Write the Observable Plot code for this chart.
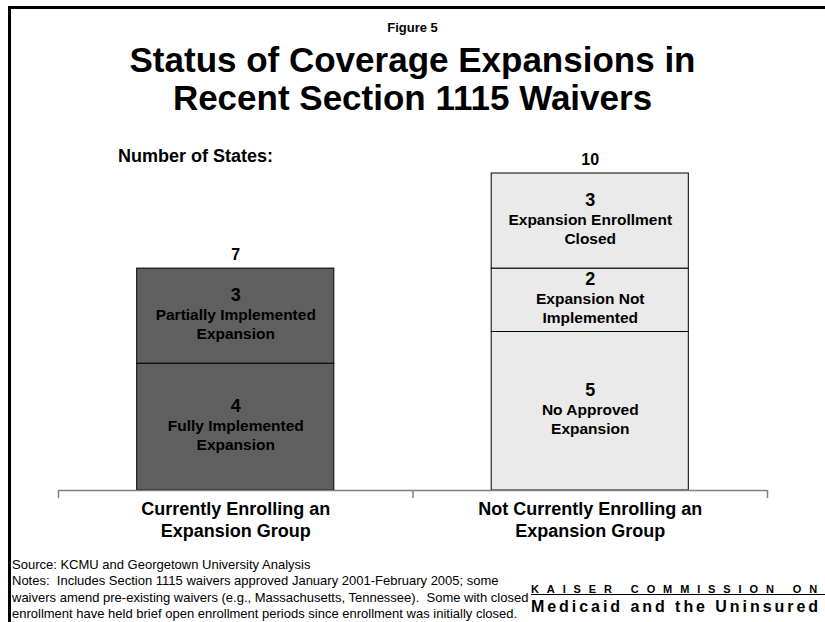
<!DOCTYPE html>
<html>
<head>
<meta charset="utf-8">
<script src="https://cdn.jsdelivr.net/npm/d3@7"></script>
<script src="https://cdn.jsdelivr.net/npm/@observablehq/plot@0.6"></script>
<style>
  html, body { margin: 0; padding: 0; background: #fff; }
  body { font-family: "Liberation Sans", Arial, sans-serif; color: #000; }
  #wrap { position: relative; width: 825px; height: 622px; overflow: hidden; }
  .frameTop { position: absolute; left: 8px; top: 6px; width: 817px; height: 3px; background: #000; }
  .frameLeft { position: absolute; left: 8px; top: 6px; width: 3px; height: 616px; background: #000; }
  #fig { position: absolute; left: 0; width: 825px; top: 20px; text-align: center; font-weight: bold; font-size: 13px; line-height: 15px; }
  #title { position: absolute; left: 0; width: 825px; top: 41px; text-align: center; font-weight: bold; font-size: 35px; line-height: 38px; }
  #nstates { position: absolute; left: 118px; top: 146px; font-weight: bold; font-size: 18px; }
  #chart { position: absolute; left: 0; top: 140px; }
  #notes { position: absolute; left: 12px; top: 557px; font-size: 13px; line-height: 16.3px; white-space: nowrap; }
  .logo { position: absolute; left: 531px; font-weight: bold; white-space: nowrap; }
  #logo1 { top: 583px; font-size: 11px; text-decoration: underline; }
  #logo2 { top: 598px; font-size: 16px; }
</style>
</head>
<body>
<div id="wrap">
  <div class="frameTop"></div>
  <div class="frameLeft"></div>
  <div id="fig">Figure 5</div>
  <div id="title">Status of Coverage Expansions in<br>Recent Section 1115 Waivers</div>
  <div id="nstates">Number of States:</div>
  <div id="chart"></div>
  <div id="notes">Source: KCMU and Georgetown University Analysis<br>Notes:&nbsp; Includes Section 1115 waivers approved January 2001-February 2005; some<br>waivers amend pre-existing waivers (e.g., Massachusetts, Tennessee).&nbsp; Some with closed<br>enrollment have held brief open enrollment periods since enrollment was initially closed.</div>
  <div id="logo1" class="logo">KAISER COMMISSION ON</div>
  <div id="logo2" class="logo">Medicaid and the Uninsured</div>
</div>
<script>
// ---- data ----
const categories = ["Currently Enrolling an\nExpansion Group", "Not Currently Enrolling an\nExpansion Group"];
const totals = [7, 10];
const segGroup = [0, 0, 1, 1, 1];
const segValues = [4, 3, 5, 2, 3];
const segLabels = [
  "Fully Implemented\nExpansion",
  "Partially Implemented\nExpansion",
  "No Approved\nExpansion",
  "Expansion Not\nImplemented",
  "Expansion Enrollment\nClosed"
];
const groupColors = ["#5f5f5f", "#eaeaea"];
const tickPositions = [0, 1, 2];

// ---- build table (stacking per group) ----
const barHalf = 0.278; // half bar width in category units
const acc = [0, 0];
const segs = segValues.map((v, i) => {
  const g = segGroup[i];
  const y1 = acc[g];
  acc[g] += v;
  return { g, value: v, label: segLabels[i], y1, y2: acc[g], mid: (y1 + acc[g]) / 2,
           x1: g + 0.5 - barHalf, x2: g + 0.5 + barHalf };
});
const cats = categories.map((c, i) => ({ i, name: c, pos: i + 0.5, total: totals[i] }));

const chart = Plot.plot({
  width: 825,
  height: 410,
  marginLeft: 58,
  marginRight: 58,
  marginTop: 33,
  marginBottom: 60,
  style: { fontFamily: "'Liberation Sans', Arial, sans-serif", color: "#000", background: "transparent" },
  x: { domain: [0, 2], axis: null },
  y: { domain: [0, 10], axis: null },
  marks: [
    Plot.rectY(segs, { x1: "x1", x2: "x2", y1: "y1", y2: "y2", fill: d => groupColors[d.g], stroke: "#000", strokeWidth: 1 }),
    Plot.ruleY([0], { stroke: "#808080", strokeWidth: 1.5 }),
    Plot.axisX({ ticks: tickPositions, tickSize: 8, tickFormat: () => "", stroke: "#808080", strokeWidth: 1.5 }),
    Plot.text(segs, { x: d => d.g + 0.5, y: "mid", text: d => String(d.value), dy: -21, fontSize: 18, fontWeight: "bold", fill: "#000" }),
    Plot.text(segs, { x: d => d.g + 0.5, y: "mid", text: "label", dy: 7, fontSize: 15.5, fontWeight: "bold", lineHeight: 1.22, fill: "#000" }),
    Plot.text(cats, { x: "pos", y: "total", text: d => String(d.total), dy: -14, fontSize: 16, fontWeight: "bold", fill: "#000" }),
    Plot.text(cats, { x: "pos", y: 0, text: "name", lineAnchor: "top", dy: 9, fontSize: 18, fontWeight: "bold", lineHeight: 1.22, fill: "#000" })
  ]
});
document.getElementById("chart").appendChild(chart);

// fit the logo lines to the logo width by letter spacing
function fitWidth(id, target) {
  const el = document.getElementById(id);
  const txt = el.textContent;
  el.style.letterSpacing = "0px";
  const w = el.getBoundingClientRect().width;
  const ls = (target - w) / txt.length;
  el.style.letterSpacing = ls + "px";
}
fitWidth("logo1", 294);
fitWidth("logo2", 290);
</script>
</body>
</html>
